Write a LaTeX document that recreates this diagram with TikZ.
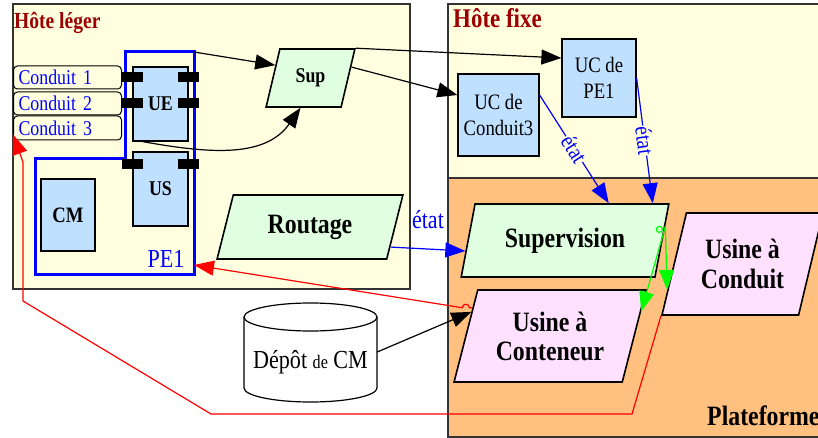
\documentclass[tikz,border=0pt]{standalone}
\usepackage{fontspec}
\setmainfont{Liberation Serif}[FakeStretch=0.85]
\usepackage{xcolor}
\usepackage{tikz}
\usetikzlibrary{arrows, arrows.meta, shapes.geometric}

\definecolor{hotefill}{HTML}{FFFFE0}
\definecolor{platfill}{HTML}{FFC080}
\definecolor{ucfill}{HTML}{C0E0FF}
\definecolor{supfill}{HTML}{E0FFE0}
\definecolor{usinefill}{HTML}{FFE0FF}
\definecolor{titlered}{HTML}{9C0000}
\definecolor{vert}{HTML}{00FF00}

\newcommand{\fsz}[2]{\fontsize{#1}{#2}\selectfont}

\begin{document}
\begin{tikzpicture}[x=1pt, y=-1pt, >={Triangle[length=20pt, width=15pt]},
  arr/.style={->, line width=1.2pt},
  para/.style={trapezium, trapezium left angle=70, trapezium right angle=110, trapezium stretches=true, draw, line width=1.6pt, inner sep=0pt, align=center, font=\bfseries\fsz{28}{30}}]

\useasboundingbox (0,0) rectangle (818,438);

% hotes et plateforme
\filldraw[fill=hotefill, draw=black!80, line width=1.2pt] (13,4) rectangle (410,289);
\filldraw[fill=hotefill, draw=black!80, line width=1.2pt] (448,4) rectangle (830,178);
\filldraw[fill=platfill, draw=black!80, line width=1.2pt] (448,178) rectangle (830,437);

\node[anchor=base west, inner sep=0pt, text=titlered, font=\bfseries\fsz{23}{24}] (leger) at (14,29) {Hôte léger};
\node[anchor=base west, inner sep=0pt, text=titlered, font=\bfseries\fsz{27}{28}] (fixe) at (453,28) {Hôte fixe};
\node[anchor=base west, inner sep=0pt, font=\bfseries\fsz{28}{30}] (plat) at (707,425) {Plateforme};

% conduits
\begin{scope}[every node/.style={draw, rounded corners=4pt, line width=1pt, anchor=west, minimum height=23pt, text width=98pt, inner xsep=5pt, align=left, text=blue, font=\fsz{21}{22}}]
\node (condA) at (13,77.5) {Conduit 1};
\node (condB) at (13,103.5) {Conduit 2};
\node[minimum height=24pt] (condC) at (13,128) {Conduit 3};
\end{scope}

% PE1
\draw[blue, line width=3pt] (125,52) -- (194,52) -- (194,274) -- (35,274) -- (35,159) -- (125,159) -- cycle;
\coordinate (pe1ne) at (194,52);
\coordinate (pe1tip) at (194,265);
\node[text=blue, font=\fsz{26}{28}] (pe1) at (166,259) {PE1};

\begin{scope}[every node/.style={draw, fill=ucfill, line width=1.2pt, minimum width=55pt, minimum height=74pt, font=\bfseries\fsz{21}{22}}]
\node (ue) at (160.5,104) {UE};
\node (us) at (160.5,189) {US};
\node[minimum width=54pt, minimum height=72pt, font=\bfseries\fsz{22}{24}] (cm) at (68,215) {CM};
\end{scope}

\foreach \px/\py in {132.5/77, 132.5/103, 188/77, 188/103, 132.5/164.5, 188/164.5}
  \fill (\px-10.5,\py-5) rectangle ++(21,10);

% uc de l'hote fixe
\begin{scope}[every node/.style={draw, fill=ucfill, line width=1.2pt, align=center, font=\fsz{22}{26}}]
\node[minimum width=74pt, minimum height=78pt] (ucpe) at (599,78) {UC de\\PE1};
\node[minimum width=81pt, minimum height=82pt] (uccond) at (498.5,115) {UC de\\Conduit3};
\end{scope}

% parallelogrammes
\node[para, fill=supfill, minimum width=89pt, minimum height=58pt, font=\bfseries\fsz{21}{22}] (sup) at (310.5,78) {Sup};
\node[para, fill=supfill, minimum width=186pt, minimum height=64pt] (rout) at (310,227) {Routage};
\node[para, fill=supfill, minimum width=208pt, minimum height=73pt] (superv) at (565,240.5) {Supervision};
\node[para, fill=usinefill, minimum width=192pt, minimum height=92pt, font=\bfseries\fsz{28}{29}] (cont) at (550,336) {Usine à\\Conteneur};
\node[para, fill=usinefill, minimum width=161pt, minimum height=102pt, font=\bfseries\fsz{28}{30}] (ucond) at (742.5,264) {Usine à\\Conduit};

% depot
\draw[line width=1.2pt, fill=white] (244,317) -- (244,388) arc[start angle=180, end angle=360, x radius=66.5pt, y radius=14pt] -- (377,317);
\draw[line width=1.2pt, fill=white] (310.5,317) ellipse [x radius=66.5pt, y radius=14pt];
\node[minimum width=133pt, inner sep=0pt, font=\fsz{26}{28}] (depot) at (310.5,362) {Dépôt {\fsz{19}{20}de} CM};

% liens
\draw[arr] (pe1ne) -- (sup.160);
\draw[arr] (sup.top right corner) -- ([yshift=20pt]ucpe.west);
\draw[arr] (sup.15) -- ([yshift=20pt]uccond.west);
\draw[arr] ([xshift=10pt]ue.south west) to[out=-10, in=-125] ([xshift=-10pt]sup.south);
\draw[arr] ([yshift=10pt]depot.east) -- (cont.163);

\draw[arr, blue] ([yshift=20pt]uccond.east) -- ([xshift=-61pt]superv.top right corner)
  node[midway, sloped, fill=hotefill, inner sep=1pt, font=\fsz{23}{24}] {état};
\draw[arr, blue] (ucpe.east) -- ([xshift=-17pt]superv.top right corner)
  node[midway, sloped, fill=hotefill, inner sep=1pt, font=\fsz{23}{24}] {état};
\draw[arr, blue] (rout.-14) -- (superv.186) node[midway, above=16pt, font=\fsz{26}{28}] {état};

\draw[arr, red] (cont.160) -- ++(-3,0) arc[start angle=0, end angle=180, radius=3.5pt] -- (pe1tip);
\draw[arr, red] (ucond.bottom left corner) -- (632,414) -- (211,414) -- (23,301) -- (23,162) -- ([yshift=6pt]condC.south west);

\draw[vert, line width=1.2pt] ([xshift=-6pt, yshift=-3pt]superv.8) circle (3pt);
\draw[arr, vert] (superv.8) -- (cont.15);
\draw[arr, vert] (superv.8) -- (ucond.199);
\end{tikzpicture}
\end{document}
